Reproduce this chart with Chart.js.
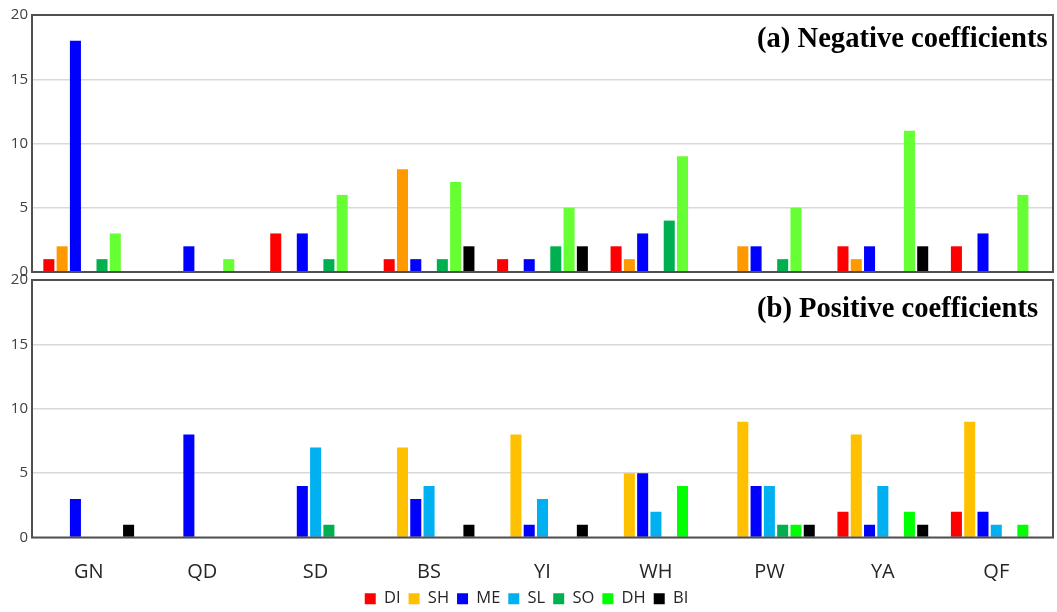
<!DOCTYPE html>
<html>
<head>
<meta charset="utf-8">
<script src="https://cdn.jsdelivr.net/npm/chart.js@4.4.0/dist/chart.umd.min.js"></script>
<style>
  html, body { margin: 0; padding: 0; background: #fff; overflow: hidden; }
  #wrap { position: relative; width: 1057px; height: 612px; overflow: hidden; }
  #topBox { position: absolute; left: 0; top: 0; width: 1057px; height: 290px; }
  #botBox { position: absolute; left: 0; top: 262px; width: 1057px; height: 360px; }
</style>
</head>
<body>
<div id="wrap">
  <div id="topBox"><canvas id="chartNeg"></canvas></div>
  <div id="botBox"><canvas id="chartPos"></canvas></div>
</div>
<script>
const categories = ["GN", "QD", "SD", "BS", "YI", "WH", "PW", "YA", "QF"];
const seriesNames = ["DI", "SH", "ME", "SL", "SO", "DH", "BI"];

// (a) negative coefficients
const negDI = [1, 0, 3, 1, 1, 2, 0, 2, 2];
const negSH = [2, 0, 0, 8, 0, 1, 2, 1, 0];
const negME = [18, 2, 3, 1, 1, 3, 2, 2, 3];
const negSL = [0, 0, 0, 0, 0, 0, 0, 0, 0];
const negSO = [1, 0, 1, 1, 2, 4, 1, 0, 0];
const negDH = [3, 1, 6, 7, 5, 9, 5, 11, 6];
const negBI = [0, 0, 0, 2, 2, 0, 0, 2, 0];

// (b) positive coefficients
const posDI = [0, 0, 0, 0, 0, 0, 0, 2, 2];
const posSH = [0, 0, 0, 7, 8, 5, 9, 8, 9];
const posME = [3, 8, 4, 3, 1, 5, 4, 1, 2];
const posSL = [0, 0, 7, 4, 3, 2, 4, 4, 1];
const posSO = [0, 0, 1, 0, 0, 0, 1, 0, 0];
const posDH = [0, 0, 0, 0, 0, 4, 1, 2, 1];
const posBI = [1, 0, 0, 1, 1, 0, 1, 1, 0];

const yTicks = [0, 5, 10, 15, 20];

const negColors = ["#FF0000", "#FF9900", "#0000FF", "#00B0F0", "#00B050", "#66FF33", "#000000"];
const posColors = ["#FF0000", "#FFC000", "#0000FF", "#00B0F0", "#00B050", "#00FF00", "#000000"];

const negData = [negDI, negSH, negME, negSL, negSO, negDH, negBI];
const posData = [posDI, posSH, posME, posSL, posSO, posDH, posBI];

function makeDatasets(values, colors) {
  return seriesNames.map((name, i) => ({
    label: name,
    data: values[i],
    backgroundColor: colors[i],
    borderWidth: 0,
    categoryPercentage: 0.82,
    barPercentage: 0.83
  }));
}

// frame round the plot area and the panel caption
function panelPlugin(caption, dy) {
  return {
    id: "panel",
    afterDatasetsDraw(chart) {
      const a = chart.chartArea;
      const ctx = chart.ctx;
      ctx.save();
      ctx.strokeStyle = "#505050";
      ctx.lineWidth = 2;
      ctx.strokeRect(a.left, a.top, a.right - a.left, a.bottom - a.top);
      ctx.fillStyle = "#000";
      ctx.font = "bold 28.6px 'Liberation Serif', 'Times New Roman', serif";
      ctx.textAlign = "left";
      ctx.textBaseline = "middle";
      ctx.fillText(caption, 757, a.top + dy);
      ctx.restore();
    }
  };
}

function yScale() {
  return {
    min: 0,
    max: 20,
    afterBuildTicks: s => { s.ticks = yTicks.map(v => ({ value: v })); },
    afterFit: s => { s.width = 32; },
    grid: { color: "#D9D9D9", lineWidth: 1.5, drawTicks: false },
    border: { display: false },
    ticks: { padding: 4, color: "#404040", font: { family: "Open Sans", size: 15 } }
  };
}

new Chart(document.getElementById("chartNeg"), {
  type: "bar",
  data: { labels: categories, datasets: makeDatasets(negData, negColors) },
  options: {
    responsive: true,
    maintainAspectRatio: false,
    animation: false,
    layout: { padding: { top: 15, right: 4, bottom: 18, left: 0 } },
    plugins: { legend: { display: false }, tooltip: { enabled: false } },
    scales: {
      x: { display: false },
      y: yScale()
    }
  },
  plugins: [panelPlugin("(a) Negative coefficients", 25)]
});

new Chart(document.getElementById("chartPos"), {
  type: "bar",
  data: { labels: categories, datasets: makeDatasets(posData, posColors) },
  options: {
    responsive: true,
    maintainAspectRatio: false,
    animation: false,
    layout: { padding: { top: 18, right: 4, bottom: 5, left: 0 } },
    plugins: {
      legend: {
        position: "bottom",
        labels: {
          boxWidth: 11,
          boxHeight: 11,
          padding: 8,
          color: "#262626",
          font: { family: "Open Sans", size: 16.5 }
        }
      },
      tooltip: { enabled: false }
    },
    scales: {
      x: {
        afterFit: s => { s.height = 45; },
        grid: { display: false, drawTicks: false },
        border: { display: false },
        ticks: { padding: 23, color: "#262626", font: { family: "Open Sans", size: 20 } }
      },
      y: yScale()
    }
  },
  plugins: [panelPlugin("(b) Positive coefficients", 30)]
});
</script>
</body>
</html>
